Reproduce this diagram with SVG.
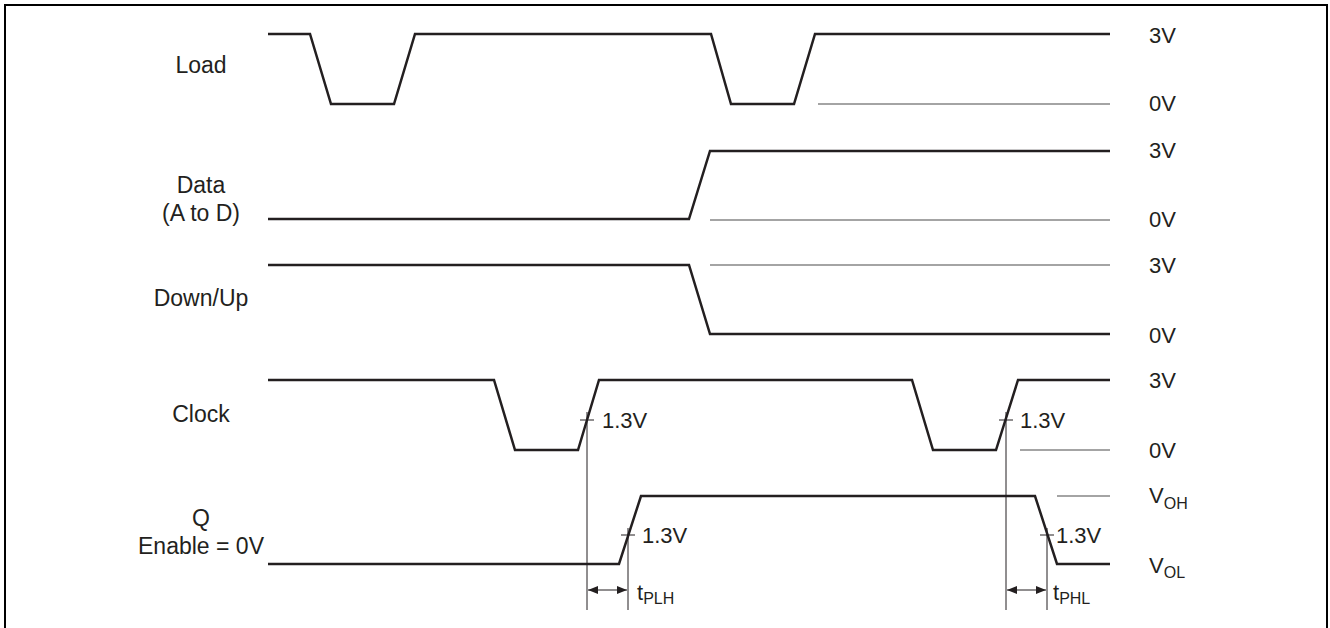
<svg xmlns="http://www.w3.org/2000/svg" width="1330" height="628" viewBox="0 0 1330 628">
<style>
.w{fill:none;stroke:#231f20;stroke-width:2.5;stroke-linejoin:miter}
.r{fill:none;stroke:#4a4a4a;stroke-width:1.2}
.v{fill:none;stroke:#231f20;stroke-width:1}
.lbl{font-family:"Liberation Sans",Arial,sans-serif;font-size:23px;fill:#231f20;text-anchor:middle}
.lv{font-family:"Liberation Sans",Arial,sans-serif;font-size:22px;fill:#231f20}
.sub{font-size:16px}
</style>
<defs>
<marker id="ah" viewBox="0 0 10 8" refX="10" refY="4" markerWidth="10" markerHeight="8" markerUnits="userSpaceOnUse" orient="auto-start-reverse">
<path d="M0,0 L10,4 L0,8 Z" fill="#231f20"/>
</marker>
</defs>
<rect width="1330" height="628" fill="#fff"/>
<path d="M5,628 V5 H1327 V628" fill="none" stroke="#000" stroke-width="2"/>

<g id="labels">
<text class="lbl" x="201" y="73">Load</text>
<text class="lbl" x="201" y="193">Data</text>
<text class="lbl" x="201" y="221">(A to D)</text>
<text class="lbl" x="201" y="306">Down/Up</text>
<text class="lbl" x="201" y="422">Clock</text>
<text class="lbl" x="201" y="526">Q</text>
<text class="lbl" x="201" y="554">Enable = 0V</text>
</g>

<g id="load">
<path class="w" d="M268,34 H310 L331,104 H394 L415,34 H711 L731,104 H794 L815,34 H1110"/>
<path class="r" d="M818,104 H1110"/>
<text class="lv" x="1149" y="43">3V</text>
<text class="lv" x="1149" y="111">0V</text>
</g>

<g id="data">
<path class="w" d="M268,219 H689 L710,151 H1110"/>
<path class="r" d="M710,220 H1110"/>
<text class="lv" x="1149" y="158">3V</text>
<text class="lv" x="1149" y="227">0V</text>
</g>

<g id="downup">
<path class="w" d="M268,265 H689 L710,334 H1110"/>
<path class="r" d="M710,265 H1110"/>
<text class="lv" x="1149" y="273">3V</text>
<text class="lv" x="1149" y="343">0V</text>
</g>

<g id="clock">
<path class="w" d="M268,380 H494 L515,450 H578 L599,380 H912 L933,450 H996 L1018,380 H1110"/>
<path class="r" d="M1020,450 H1110"/>
<text class="lv" x="1149" y="388">3V</text>
<text class="lv" x="1149" y="458">0V</text>
<path class="v" d="M580,420 H594 M999,420 H1013"/>
<text class="lv" x="602" y="428">1.3V</text>
<text class="lv" x="1020" y="428">1.3V</text>
</g>

<g id="q">
<path class="w" d="M268,564 H619 L641,496 H1035 L1057,564 H1110"/>
<path class="r" d="M1057,496 H1110"/>
<text class="lv" x="1149" y="503">V<tspan class="sub" dy="6">OH</tspan></text>
<text class="lv" x="1149" y="573">V<tspan class="sub" dy="5">OL</tspan></text>
<path class="v" d="M621,535 H635 M1040,535 H1054"/>
<text class="lv" x="642" y="543">1.3V</text>
<text class="lv" x="1056" y="543">1.3V</text>
</g>

<g id="connectors">
<path class="v" d="M587,412 V610 M628,528 V610 M1006,412 V610 M1047,528 V610"/>
<path class="v" d="M588,590 H627" marker-start="url(#ah)" marker-end="url(#ah)"/>
<path class="v" d="M1007,590 H1046" marker-start="url(#ah)" marker-end="url(#ah)"/>
<text class="lv" x="637" y="600">t<tspan class="sub" dy="4">PLH</tspan></text>
<text class="lv" x="1053" y="600">t<tspan class="sub" dy="4">PHL</tspan></text>
</g>
</svg>
